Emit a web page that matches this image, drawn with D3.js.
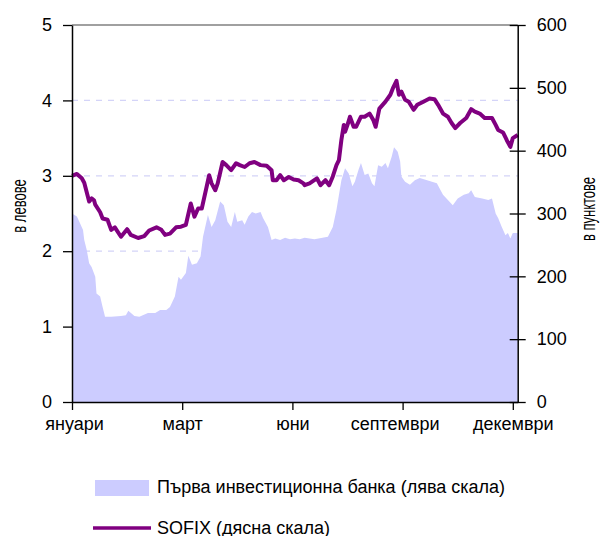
<!DOCTYPE html>
<html>
<head>
<meta charset="utf-8">
<script src="https://cdn.jsdelivr.net/npm/d3@7"></script>
<style>
  html, body { margin: 0; padding: 0; background: #fff; }
  svg { display: block; font-family: "Liberation Sans", Arial, sans-serif; }
</style>
</head>
<body>
<svg id="chart" width="601" height="536"></svg>
<script>
// ---- data (day offsets from 1 January) ----
const pibDays = [0,4,6,9,10,12,14,16,19,20,23,25,27,32,40,44,46,51,55,62,68,72,77,80,84,87,89,93,95,98,102,105,107,111,114,117,121,124,127,130,133,135,139,141,144,147,150,154,156,160,163,166,170,174,178,182,186,190,198,209,213,216,220,223,226,229,231,234,236,239,242,245,247,250,253,256,258,261,263,266,268,269,272,276,280,284,290,294,298,301,303,307,311,315,320,324,326,329,335,340,343,346,348,351,354,356,358,360,363,364];
const pibValues = [2.50,2.46,2.39,2.28,2.15,2.02,1.84,1.79,1.66,1.44,1.40,1.26,1.13,1.13,1.14,1.15,1.21,1.14,1.13,1.18,1.18,1.22,1.22,1.26,1.40,1.66,1.62,1.71,1.94,1.82,1.84,1.93,2.19,2.48,2.32,2.41,2.66,2.61,2.39,2.32,2.52,2.39,2.41,2.35,2.46,2.52,2.50,2.52,2.44,2.32,2.15,2.17,2.15,2.18,2.16,2.17,2.16,2.18,2.16,2.19,2.32,2.55,2.94,3.10,3.03,2.86,2.92,3.08,3.17,3.01,3.03,2.90,2.86,3.14,3.12,3.17,3.10,3.25,3.38,3.32,3.19,2.99,2.92,2.88,2.94,2.97,2.94,2.92,2.90,2.81,2.75,2.68,2.61,2.70,2.75,2.77,2.81,2.72,2.70,2.68,2.70,2.50,2.44,2.32,2.21,2.24,2.17,2.24,2.24,2.24];

const sofixDays = [0,4,8,10,14,16,18,19,23,25,29,32,35,40,45,48,54,59,63,69,73,76,80,85,89,93,97,100,103,106,110,112,114,117,119,123,126,130,134,137,141,145,149,154,159,163,164,167,170,173,177,181,185,189,190,194,200,203,207,210,213,216,218,220,222,223,225,227,230,232,236,239,243,246,248,251,256,260,262,265,267,269,272,275,279,282,287,292,296,299,303,307,310,313,317,322,326,329,333,337,343,346,348,352,355,358,360,364];
const sofixValues = [360,363,356,349,319,324,321,314,302,292,290,274,278,263,275,266,261,264,273,278,274,266,268,278,279,282,316,295,308,308,343,361,348,337,348,382,377,369,380,377,374,380,382,377,376,369,353,353,361,353,358,354,353,348,345,348,356,345,353,345,359,377,385,417,441,430,441,454,438,438,454,454,459,449,438,467,478,489,499,511,489,494,481,478,465,473,478,483,482,473,459,454,444,436,444,452,466,462,459,452,452,441,433,429,417,406,420,425];

const xTickDays = [0, 90, 180, 270, 360];
const xTickLabels = ["януари", "март", "юни", "септември", "декември"];
const leftTicks = [0, 1, 2, 3, 4, 5];
const rightTicks = [0, 100, 200, 300, 400, 500, 600];
const gridTicks = [1, 2, 3, 4];

const seriesNames = ["Първа инвестиционна банка (лява скала)", "SOFIX (дясна скала)"];
const axisTitles = ["в левове", "в пунктове"];

// ---- layout ----
const X0 = 72, X1 = 517.7, Y0 = 402, Y1 = 25;
const start = new Date(2007, 0, 1);
const toDate = d => d3.timeDay.offset(start, d);

const x = d3.scaleTime().domain([start, toDate(364)]).range([X0, X1]);
const yL = d3.scaleLinear().domain([0, 5]).range([Y0, Y1]);
const yR = d3.scaleLinear().domain([0, 600]).range([Y0, Y1]);

const pib = pibDays.map((d, i) => ({ date: toDate(d), v: pibValues[i] }));
const sofix = sofixDays.map((d, i) => ({ date: toDate(d), v: sofixValues[i] }));

const svg = d3.select("#chart");
const AREA = "#ccccff", LINE = "#800080";

// gridlines
svg.append("g").selectAll("line").data(gridTicks).join("line")
  .attr("x1", X0).attr("x2", X1)
  .attr("y1", d => yL(d)).attr("y2", d => yL(d))
  .attr("stroke", "#d4d4f8").attr("stroke-width", 1.2)
  .attr("stroke-dasharray", "6,6");

// area
svg.append("path").datum(pib)
  .attr("fill", AREA)
  .attr("d", d3.area().x(d => x(d.date)).y0(Y0).y1(d => yL(d.v)));

// line
svg.append("path").datum(sofix)
  .attr("fill", "none").attr("stroke", LINE).attr("stroke-width", 4)
  .attr("stroke-linejoin", "round")
  .attr("d", d3.line().x(d => x(d.date)).y(d => yR(d.v)));

// top border
svg.append("line").attr("x1", X0).attr("x2", X1).attr("y1", Y1).attr("y2", Y1)
  .attr("stroke", "#808080").attr("stroke-width", 1.5);

const styleAxis = g => {
  g.select(".domain").attr("stroke", "#000").attr("stroke-width", 1.5);
  g.selectAll(".tick line").attr("stroke", "#000").attr("stroke-width", 1.3);
  g.selectAll("text").attr("font-size", 18).attr("fill", "#000")
    .attr("font-family", "'Liberation Sans', Arial, sans-serif");
};

// left axis
svg.append("g").attr("transform", `translate(${X0},0)`)
  .call(d3.axisLeft(yL).tickValues(leftTicks).tickFormat(d3.format("d"))
    .tickSize(9).tickSizeOuter(0).tickPadding(11))
  .call(styleAxis);

// right axis
const gR = svg.append("g").attr("transform", `translate(${X1},0)`)
  .call(d3.axisRight(yR).tickValues(rightTicks).tickFormat(d3.format("d"))
    .tickSize(8).tickSizeOuter(0).tickPadding(11))
  .call(styleAxis);
gR.selectAll(".tick line").attr("x1", -8);

// bottom axis
const gB = svg.append("g").attr("transform", `translate(0,${Y0})`)
  .call(d3.axisBottom(x).tickValues(xTickDays.map(toDate))
    .tickFormat((d, i) => xTickLabels[i])
    .tickSize(8).tickSizeOuter(0).tickPadding(7))
  .call(styleAxis);
gB.selectAll(".tick text").attr("dx", (d, i) => i === 3 ? -8 : (i === 0 ? 2 : 0));

// axis titles
svg.append("text")
  .attr("transform", "translate(26,206) rotate(-90) scale(0.62,1)")
  .attr("text-anchor", "middle").attr("font-size", 21).attr("fill", "#000")
  .text(axisTitles[0]);
svg.append("text")
  .attr("transform", "translate(595,209) rotate(-90) scale(0.62,1)")
  .attr("text-anchor", "middle").attr("font-size", 21).attr("fill", "#000")
  .text(axisTitles[1]);

// legend
const lg = svg.append("g");
lg.append("rect").attr("x", 95).attr("y", 480).attr("width", 54).attr("height", 16).attr("fill", AREA);
lg.append("text").attr("x", 157).attr("y", 492.5).attr("font-size", 18).attr("fill", "#000").text(seriesNames[0]);
lg.append("line").attr("x1", 93).attr("x2", 151).attr("y1", 528).attr("y2", 528)
  .attr("stroke", LINE).attr("stroke-width", 3.5);
lg.append("text").attr("x", 157).attr("y", 533.5).attr("font-size", 18).attr("fill", "#000").text(seriesNames[1]);
</script>
</body>
</html>
